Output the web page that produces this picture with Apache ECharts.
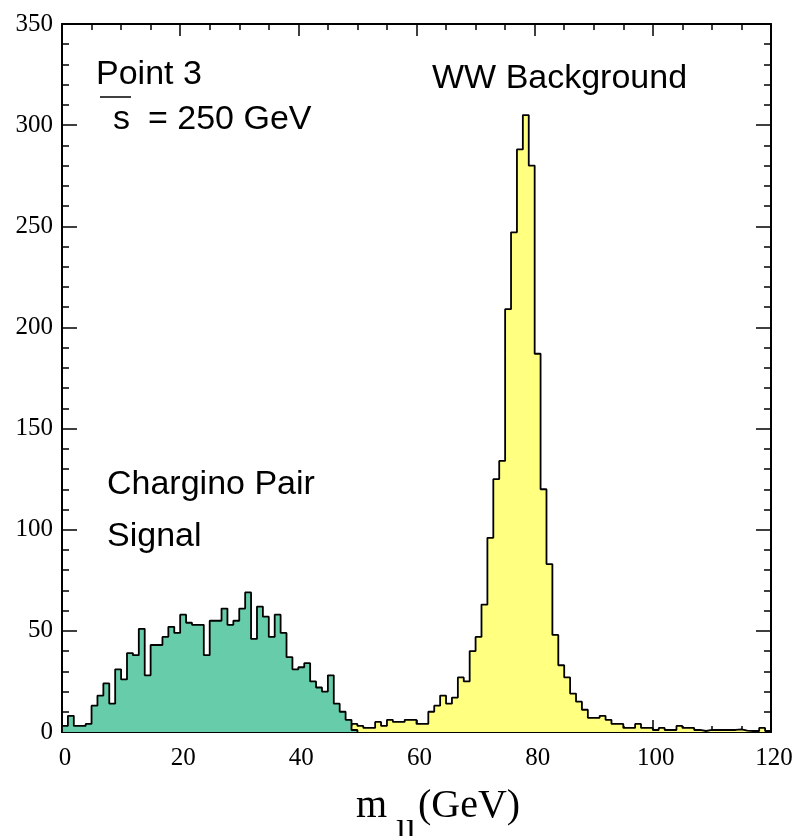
<!DOCTYPE html>
<html>
<head>
<meta charset="utf-8">
<script src="https://cdn.jsdelivr.net/npm/echarts@6/dist/echarts.min.js"></script>
<style>
html,body{margin:0;padding:0;background:#fff;}
#chart{width:798px;height:836px;}
</style>
</head>
<body>
<div id="chart"></div>
<script>
// Bin width 1 GeV, bins start at 0 GeV
const binWidth = 1;
// Chargino pair signal, bins 0..49
const signalCounts = [3, 8, 3, 3, 4, 13, 18, 24, 14, 31,
  26, 39, 38, 51, 28, 43, 43, 47, 52, 49,
  58, 54, 53, 53, 38, 55, 55, 61, 53, 55,
  61, 69, 46, 62, 57, 47, 58, 49, 37, 31,
  32, 34, 25, 22, 20, 28, 14, 10, 6, 1];
// WW background, bins 0..119 (low bins hidden under the signal)
const wwCounts = [1, 1, 1, 1, 1, 1, 1, 1, 1, 1,
  1, 1, 1, 1, 1, 1, 2, 1, 1, 2,
  1, 2, 2, 1, 2, 2, 2, 2, 2, 2,
  2, 2, 2, 2, 2, 2, 3, 2, 2, 3,
  2, 3, 3, 2, 3, 3, 3, 3, 3, 4,
  3, 2, 2, 5, 3, 6, 5, 5, 6, 6,
  4, 4, 10, 13, 18, 14, 17, 27, 25, 40,
  47, 63, 96, 125, 134, 209, 247, 288, 305, 280,
  187, 120, 83, 48, 33, 27, 19, 15, 11, 7,
  7, 8, 6, 4, 4, 2, 2, 4, 2, 2,
  1, 2, 1, 1, 3, 2, 2, 1, 0.5, 1,
  1, 1, 1, 1, 1.3, 0.7, 0.5, 0.5, 2, 0.5];
const xTicks = [0, 20, 40, 60, 80, 100, 120];
const yTicks = [0, 50, 100, 150, 200, 250, 300, 350];

function stepPoints(counts) {
  const pts = [[0, 0]];
  counts.forEach((c, k) => pts.push([(k + 1) * binWidth, c]));
  pts.push([counts.length * binWidth, 0]);
  return pts;
}

const chart = echarts.init(document.getElementById('chart'), null, {renderer: 'canvas'});
const axisLine = {show: true, onZero: false, lineStyle: {color: '#000', width: 2}};
const serif = '"Liberation Serif", "Times New Roman", serif';
const sans = '"Liberation Sans", Arial, sans-serif';

function xAxis(pos, labels) {
  return {
    type: 'value', position: pos, min: xTicks[0], max: xTicks[xTicks.length - 1], interval: 20,
    axisLine: axisLine,
    axisTick: {show: true, inside: true, length: 12, lineStyle: {color: '#000', width: 1.5}},
    minorTick: {show: true, splitNumber: 4, length: 6, lineStyle: {color: '#000', width: 1.5}},
    splitLine: {show: false},
    axisLabel: {show: labels, color: '#000', fontFamily: serif, fontSize: 25, margin: 14, padding: [0, 0, 0, 6]}
  };
}
function yAxis(pos, labels) {
  return {
    type: 'value', position: pos, min: yTicks[0], max: yTicks[yTicks.length - 1], interval: 50,
    axisLine: axisLine,
    axisTick: {show: true, inside: true, length: 15, lineStyle: {color: '#000', width: 1.5}},
    minorTick: {show: true, splitNumber: 5, length: 7, lineStyle: {color: '#000', width: 1.5}},
    splitLine: {show: false},
    axisLabel: {show: labels, color: '#000', fontFamily: serif, fontSize: 25, margin: 9}
  };
}

const option = {
  animation: false,
  backgroundColor: '#fff',
  grid: {left: 62, right: 27, top: 24, bottom: 104, containLabel: false},
  xAxis: [xAxis('bottom', true), xAxis('top', false)],
  yAxis: [yAxis('left', true), yAxis('right', false)],
  series: [
    {
      type: 'line', name: 'WW Background', step: 'start', symbol: 'none',
      xAxisIndex: 0, yAxisIndex: 0,
      data: stepPoints(wwCounts),
      lineStyle: {color: '#000', width: 1.8},
      areaStyle: {color: '#FFFF80', opacity: 1},
      z: 2
    },
    {
      type: 'line', name: 'Chargino Pair Signal', step: 'start', symbol: 'none',
      xAxisIndex: 0, yAxisIndex: 0,
      data: stepPoints(signalCounts),
      lineStyle: {color: '#000', width: 1.8},
      areaStyle: {color: '#66CCAA', opacity: 1},
      z: 3
    }
  ],
  graphic: [
    {type: 'text', left: 96, top: 58, style: {text: 'Point 3', font: '34px ' + sans, fill: '#000'}},
    {type: 'text', left: 113, top: 103, style: {text: 's', font: '34px ' + sans, fill: '#000'}},
    {type: 'line', shape: {x1: 100, y1: 97, x2: 131, y2: 97}, style: {stroke: '#000', lineWidth: 1.5}},
    {type: 'text', left: 148, top: 103, style: {text: '= 250 GeV', font: '34px ' + sans, fill: '#000'}},
    {type: 'text', left: 432, top: 62, style: {text: 'WW Background', font: '34px ' + sans, fill: '#000'}},
    {type: 'text', left: 107, top: 468, style: {text: 'Chargino Pair', font: '34px ' + sans, fill: '#000'}},
    {type: 'text', left: 107, top: 520, style: {text: 'Signal', font: '34px ' + sans, fill: '#000'}},
    {type: 'text', left: 356, top: 786, style: {text: 'm', font: '40px ' + serif, fill: '#000'}},
    {type: 'text', left: 396, top: 818, style: {text: 'll', font: '36px ' + serif, fill: '#000'}},
    {type: 'text', left: 418, top: 786, style: {text: '(GeV)', font: '40px ' + serif, fill: '#000'}}
  ]
};
chart.setOption(option);
</script>
</body>
</html>
